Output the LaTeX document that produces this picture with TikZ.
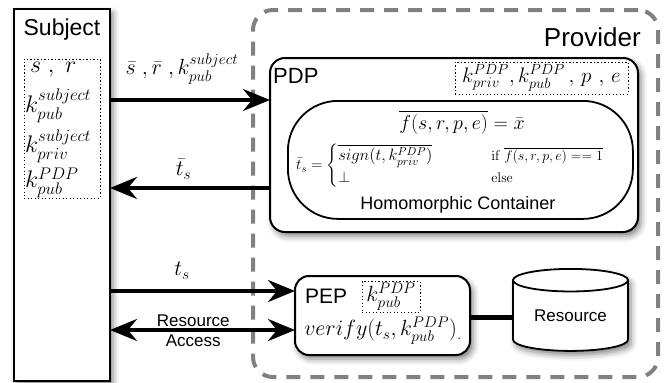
\documentclass[tikz,border=0pt]{standalone}
\usepackage{fix-cm}
\usepackage{amsmath}
\usepackage[no-math]{fontspec}
\setmainfont{Liberation Sans}
\usetikzlibrary{arrows.meta,shapes.geometric,shadows.blur}

% font size given in pt
\newcommand{\setpx}[1]{\fontsize{#1}{#1}\selectfont}
% a piece of math set at its own size
\newcommand{\sizedmath}[2]{\mbox{\fontsize{#1}{#1}\selectfont$#2$}}

\begin{document}
\begin{tikzpicture}[x=1pt,y=-1pt,
  softshadow/.style={blur shadow={shadow xshift=3pt, shadow yshift=-4pt,
      shadow blur radius=6pt, shadow opacity=50}},
  mainbox/.style={draw, line width=2pt, fill=white, inner sep=0pt, outer sep=0pt},
  keybox/.style={draw, line width=0.9pt, dash pattern=on 1.1pt off 2.4pt,
      inner sep=0pt, outer sep=0pt},
  provider/.style={draw=black!50, line width=4pt, dash pattern=on 14pt off 10pt,
      rounded corners=20pt, inner sep=0pt, outer sep=0pt},
  mathlabel/.style={font=\setpx{22}, inner sep=1.5pt},
  keylabel/.style={font=\setpx{24}, inner sep=1pt},
  plainlabel/.style={font=\setpx{17}, inner sep=0pt, align=center},
  >={Stealth[length=27pt, width=22pt, inset=9pt]},
  flow/.style={line width=3.5pt, ->},
  bothflow/.style={line width=3.5pt, <->},
  link/.style={line width=5pt}
]
\useasboundingbox (0,0) rectangle (670,383);

% provider domain
\node[provider, anchor=north west, minimum width=405pt, minimum height=367pt]
  (provider) at (253,10) {};
\node[anchor=east, font=\setpx{26}, inner sep=0pt] (providertitle) at (641,37) {Provider};

% subject
\node[mainbox, softshadow, anchor=north west, minimum width=96pt, minimum height=372pt]
  (subject) at (14,9) {};
\node[font=\setpx{23}, inner sep=0pt] (subjecttitle) at (62,30) {Subject};
\node[keybox, anchor=north west, minimum width=76pt, minimum height=139pt]
  (subjkeys) at (24,59) {};
\node[keylabel, anchor=west] (ksr) at (29,70) {$s\ ,\ r$};
\node[keylabel, anchor=west] (kspub) at (24,106) {$k^{subject}_{pub}$};
\node[keylabel, anchor=west] (kspriv) at (24,146) {$k^{subject}_{priv}$};
\node[keylabel, anchor=west] (kppub) at (24,183) {$k^{PDP}_{pub}$};

% policy decision point
\node[mainbox, softshadow, rounded corners=15pt, anchor=north west,
  minimum width=368pt, minimum height=174pt] (pdp) at (270,58) {};
\node[anchor=west, font=\setpx{22}, inner sep=0pt] (pdptitle) at (273,76) {PDP};
\node[keybox, anchor=north west, minimum width=173pt, minimum height=32pt]
  (pdpkeys) at (455,62) {};
\node[font=\setpx{21}, inner sep=0pt] (pdpkeytext) at (pdpkeys.center)
  {$k^{PDP}_{priv}, k^{PDP}_{pub}\,,\,p\,\,,\,e$};
\node[draw, line width=1.8pt, rounded corners=50pt, anchor=north west,
  minimum width=345pt, minimum height=118pt, inner sep=0pt] (hc) at (287,100) {};
\node[font=\setpx{20}, inner sep=0pt] (feq) at (462,122) {$\overline{f(s,r,p,e)} = \bar{x}$};
\node[font=\fontsize{15}{17}\selectfont, inner sep=0pt, anchor=west] (tscases) at (296,166)
  {$\bar{t}_s = \begin{cases}
     \sizedmath{16.5}{\overline{sign(t,k^{PDP}_{priv})}} &
       \hspace{44pt}\sizedmath{14}{\mathrm{if}\ \overline{f(s,r,p,e) == 1}}\\
     \bot & \hspace{44pt}\sizedmath{14}{\mathrm{else}}
   \end{cases}$};
\node[font=\setpx{18}, inner sep=0pt] (hctitle) at (458,205) {Homomorphic Container};

% policy enforcement point
\node[mainbox, softshadow, rounded corners=14pt, anchor=north west,
  minimum width=175pt, minimum height=79pt] (pep) at (295,276) {};
\node[anchor=west, font=\setpx{21}, inner sep=0pt] (peptitle) at (305,296) {PEP};
\node[keybox, minimum width=58pt, minimum height=31pt, font=\setpx{22}]
  (pepkeys) at (391,297) {$k^{PDP}_{pub}$};
\node[mathlabel] (verify) at (383,331) {$verify(t_s, k^{PDP}_{pub})_{.}$};

% protected resource
\node[cylinder, shape border rotate=90, aspect=0.31, draw, line width=1.8pt,
  fill=white, softshadow, minimum width=115pt, minimum height=82pt,
  inner sep=0pt, outer sep=0pt, font=\setpx{17}] (res) at (570.5,316) {Resource};
\coordinate (ylink) at (0,317);
\draw[link] (pep.east |- ylink) -- (res.west |- ylink);

% message flows
\coordinate (y1) at (0,100);
\coordinate (y2) at (0,188);
\coordinate (y3) at (0,291);
\coordinate (y4) at (0,330);
\draw[flow] (subject.east |- y1) --
  node[pos=0.45, above=14pt, mathlabel, inner sep=0pt] (lab1)
  {$\bar{s}\ ,\bar{r}\ ,k^{subject}_{pub}$} (pdp.west |- y1);
\draw[flow] (pdp.west |- y2) --
  node[pos=0.54, above=7pt, mathlabel, inner sep=0pt] (lab2) {$\bar{t}_s$}
  (subject.east |- y2);
\draw[flow] (subject.east |- y3) --
  node[pos=0.39, above=10pt, mathlabel, inner sep=0pt] (lab3) {$t_s$}
  (pep.west |- y3);
\draw[bothflow] (subject.east |- y4) --
  node[pos=0.45, plainlabel, yshift=-1pt] (lab4)
  {Resource\\[3pt]Access} (pep.west |- y4);
\end{tikzpicture}
\end{document}
